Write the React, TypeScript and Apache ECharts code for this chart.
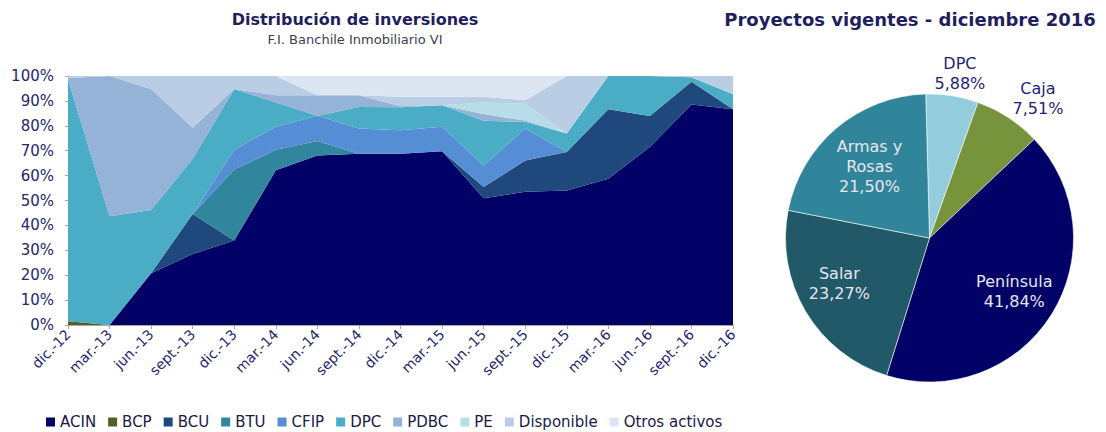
import React, { useEffect, useRef } from 'react';
import * as echarts from 'echarts';

const categories = ['dic.-12', 'mar.-13', 'jun.-13', 'sept.-13', 'dic.-13', 'mar.-14', 'jun.-14', 'sept.-14', 'dic.-14', 'mar.-15', 'jun.-15', 'sept.-15', 'dic.-15', 'mar.-16', 'jun.-16', 'sept.-16', 'dic.-16'];

const seriesNames = ['ACIN', 'BCP', 'BCU', 'BTU', 'CFIP', 'DPC', 'PDBC', 'PE', 'Disponible', 'Otros activos'];

const acin = [0, 0, 20.8, 28.5, 33.9, 62.1, 68.1, 68.8, 68.8, 69.8, 50.9, 53.5, 54.0, 58.7, 71.5, 88.6, 86.6];
const bcp = [1.5, 0, 0, 0, 0, 0, 0, 0, 0, 0, 0, 0, 0, 0, 0, 0, 0];
const bcu = [0, 0, 0, 16.1, 0, 0, 0, 0, 0, 0, 4.5, 12.6, 15.5, 27.9, 12.4, 9.1, 0];
const btu = [0, 0, 0, 0, 28.5, 8.3, 5.8, 0, 0, 0, 0, 0, 0, 0, 0, 0, 0];
const cfip = [0, 0, 0, 0, 8.0, 9.2, 10.1, 10.1, 9.4, 9.8, 8.7, 12.8, 0, 0, 0, 0, 0];
const dpc = [97.2, 43.7, 25.4, 22.2, 24.4, 9.8, 0, 8.7, 9.2, 8.7, 17.9, 2.7, 7.4, 13.4, 16.1, 1.8, 6.1];
const pdbc = [0.5, 56.3, 48.6, 12.4, 0, 2.9, 8.3, 4.7, 0.5, 0, 2.7, 0.5, 0, 0, 0, 0, 0];
const pe = [0, 0, 0, 0, 0, 0, 0, 0, 0, 0, 4.7, 6.8, 0, 0, 0, 0, 0];
const disponible = [0.8, 0, 5.2, 20.8, 5.2, 7.7, 0, 0, 3.8, 3.4, 2.3, 1.4, 23.1, 0, 0, 0.5, 7.3];
const otros = [0, 0, 0, 0, 0, 0, 7.7, 7.7, 8.3, 8.3, 8.3, 9.7, 0, 0, 0, 0, 0];

const seriesValues = [acin, bcp, bcu, btu, cfip, dpc, pdbc, pe, disponible, otros];
const seriesColors = ['#000066', '#4f6228', '#1f497d', '#31859c', '#558ed5', '#4bacc6', '#95b3d7', '#b7dee8', '#b9cde5', '#dce6f2'];

const pieNames = ['DPC', 'Caja', 'Península', 'Salar', 'Armas y Rosas'];
const pieValues = [5.88, 7.51, 41.84, 23.27, 21.5];
const pieColors = ['#93cddd', '#77933c', '#000066', '#215968', '#31859b'];
const pieLabelColors = ['#1f1f7a', '#1f1f7a', '#e6e6f0', '#e6e6f0', '#e6e6f0'];

// pie geometry (style)
const PIE_CX = 929.5;
const PIE_CY = 238;
const PIE_R = 144;
const PIE_START = 91.5;
const labelRadius = [167, 177, 100, 101, 93];
const labelAngleShift = [-1.4, -4.6, 0, -4, 0];

const FONT = '"DejaVu Sans", Verdana, sans-serif';

export default function App() {
  const ref = useRef<HTMLDivElement>(null);

  useEffect(() => {
    const chart = echarts.init(ref.current!, null, { renderer: 'svg' });
    const total = pieValues.reduce((a, b) => a + b, 0);

    const option: any = {
      animation: false,
      backgroundColor: '#ffffff',
      textStyle: { fontFamily: FONT },
      graphic: [
        {
          type: 'text',
          x: 355,
          y: 19,
          style: {
            text: 'Distribución de inversiones',
            font: `bold 16px ${FONT}`,
            fill: '#1f1f5f',
            align: 'center',
            verticalAlign: 'middle',
            textAlign: 'center',
            textVerticalAlign: 'middle',
          },
        },
        {
          type: 'text',
          x: 355,
          y: 39,
          style: {
            text: 'F.I. Banchile Inmobiliario VI',
            font: `13px ${FONT}`,
            fill: '#404050',
            align: 'center',
            verticalAlign: 'middle',
            textAlign: 'center',
            textVerticalAlign: 'middle',
          },
        },
        {
          type: 'text',
          x: 910,
          y: 19,
          style: {
            text: 'Proyectos vigentes - diciembre 2016',
            font: `bold 18px ${FONT}`,
            fill: '#1f1f5f',
            align: 'center',
            verticalAlign: 'middle',
            textAlign: 'center',
            textVerticalAlign: 'middle',
          },
        },
      ],
      legend: {
        data: seriesNames,
        left: 46,
        top: 414,
        padding: 0,
        icon: 'rect',
        itemWidth: 9,
        itemHeight: 9,
        itemGap: 12,
        textStyle: { fontFamily: FONT, fontSize: 15, lineHeight: 16, color: '#1a1a4a' },
        selectedMode: false,
      },
      grid: {
        left: 68,
        right: 373,
        top: 76,
        bottom: 107,
        containLabel: false,
        outerBoundsMode: 'none',
      },
      xAxis: {
        type: 'category',
        data: categories,
        boundaryGap: false,
        axisLine: { show: true, lineStyle: { color: '#a6a6a6', width: 1 } },
        axisTick: { show: true, interval: 0, length: 4, lineStyle: { color: '#a6a6a6' } },
        axisLabel: {
          interval: 0,
          rotate: 45,
          margin: 7,
          fontFamily: FONT,
          fontSize: 14,
          color: '#26266e',
        },
        splitLine: { show: false },
      },
      yAxis: {
        type: 'value',
        min: 0,
        max: 100,
        interval: 10,
        axisLine: { show: true, lineStyle: { color: '#a6a6a6', width: 1 } },
        axisTick: { show: true, length: 3, lineStyle: { color: '#a6a6a6' } },
        axisLabel: {
          formatter: '{value}%',
          margin: 14,
          fontFamily: FONT,
          fontSize: 15,
          color: '#26266e',
        },
        splitLine: { show: false },
      },
      series: [
        ...seriesNames.map((name, i) => ({
          name,
          type: 'line',
          stack: 'total',
          data: seriesValues[i],
          color: seriesColors[i],
          itemStyle: { color: seriesColors[i] },
          areaStyle: { color: seriesColors[i], opacity: 1 },
          lineStyle: { width: 0, opacity: 0 },
          symbol: 'none',
          showSymbol: false,
          silent: true,
          emphasis: { disabled: true },
        })),
        {
          name: 'Proyectos',
          type: 'pie',
          center: [PIE_CX, PIE_CY],
          radius: [0, PIE_R],
          startAngle: PIE_START,
          clockwise: true,
          silent: true,
          emphasis: { disabled: true },
          itemStyle: { borderColor: 'rgba(255,255,255,0.55)', borderWidth: 1 },
          label: {
            show: true,
            position: 'inside',
            fontFamily: FONT,
            fontSize: 16,
            lineHeight: 20,
            align: 'center',
            formatter: (p: any) =>
              p.name.replace('Armas y ', 'Armas y\n') + '\n' + Number(p.value).toFixed(2).replace('.', ',') + '%',
          },
          labelLine: { show: false },
          labelLayout: (p: any) => {
            const i = p.dataIndex;
            let cum = 0;
            for (let j = 0; j < i; j++) cum += pieValues[j];
            const a = ((PIE_START - ((cum + pieValues[i] / 2) / total) * 360 + labelAngleShift[i]) * Math.PI) / 180;
            return {
              x: PIE_CX + labelRadius[i] * Math.cos(a),
              y: PIE_CY - labelRadius[i] * Math.sin(a),
              align: 'center',
              verticalAlign: 'middle',
            };
          },
          data: pieNames.map((name, i) => ({
            name,
            value: pieValues[i],
            itemStyle: { color: pieColors[i] },
            label: { color: pieLabelColors[i] },
          })),
        },
      ],
    };

    chart.setOption(option);
    return () => chart.dispose();
  }, []);

  return (
    <div
      ref={ref}
      style={{ position: 'fixed', left: 0, top: 0, width: 1106, height: 432, background: '#ffffff' }}
    />
  );
}
